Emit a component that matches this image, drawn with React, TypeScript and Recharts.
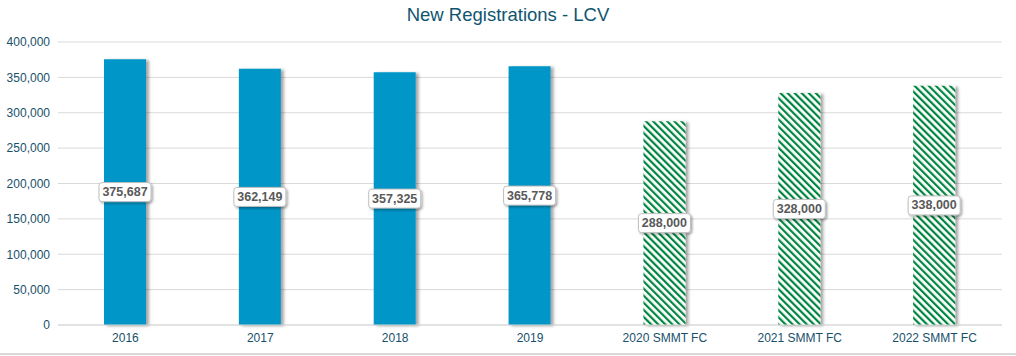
import { BarChart, Bar, XAxis, YAxis, CartesianGrid, Cell, LabelList } from "recharts";

const categories = ["2016", "2017", "2018", "2019", "2020 SMMT FC", "2021 SMMT FC", "2022 SMMT FC"];
const registrations = [375687, 362149, 357325, 365778, 288000, 328000, 338000];
const isForecast = [false, false, false, false, true, true, true];
const yTicks = [0, 50000, 100000, 150000, 200000, 250000, 300000, 350000, 400000];

const chartData = categories.map((name, i) => ({
  name,
  value: registrations[i],
  forecast: isForecast[i],
}));

const fmt = (v: number) => v.toLocaleString("en-US");

const axisColor = "#17506b";

const ValueLabel = (props: any) => {
  const { x, y, width, height, value } = props;
  const cx = x + width / 2;
  const cy = y + height / 2;
  const w = 52;
  const h = 19;
  return (
    <g>
      <rect
        x={cx - w / 2}
        y={cy - h / 2}
        width={w}
        height={h}
        rx={3}
        fill="#ffffff"
        stroke="#bfbfbf"
        strokeWidth={1}
        filter="url(#labelShadow)"
      />
      <text
        x={cx}
        y={cy}
        textAnchor="middle"
        dominantBaseline="central"
        fontSize={12.5}
        fontWeight="bold"
        fill="#595959"
      >
        {fmt(value)}
      </text>
    </g>
  );
};

export default function App() {
  return (
    <div
      style={{
        position: "absolute",
        left: 0,
        top: 0,
        width: 1016,
        height: 356,
        background: "#fff",
        fontFamily: "'Liberation Sans', Arial, sans-serif",
      }}
    >
      <div
        style={{
          position: "absolute",
          top: 4,
          left: 0,
          width: 1016,
          textAlign: "center",
          fontSize: 18.5,
          color: "#0f5570",
        }}
      >
        New Registrations - LCV
      </div>
      <div style={{ position: "absolute", left: 0, right: 0, top: 353, height: 2, background: "#d9d9d9" }} />
      <BarChart
        width={1016}
        height={356}
        data={chartData}
        margin={{ top: 42, right: 14, left: 0, bottom: 0 }}
      >
        <defs>
          <pattern
            id="hatch"
            patternUnits="userSpaceOnUse"
            width={5}
            height={5}
            patternTransform="rotate(-45)"
          >
            <rect width={5} height={5} fill="#ffffff" />
            <rect x={0} y={0} width={2.2} height={5} fill="#00853f" />
          </pattern>
          <filter id="barShadow" x="-20%" y="-5%" width="150%" height="110%">
            <feDropShadow dx={3} dy={1} stdDeviation={1.5} floodColor="#000" floodOpacity={0.35} />
          </filter>
          <filter id="labelShadow" x="-20%" y="-30%" width="150%" height="180%">
            <feDropShadow dx={1.5} dy={1.5} stdDeviation={1.2} floodColor="#000" floodOpacity={0.35} />
          </filter>
        </defs>
        <CartesianGrid vertical={false} stroke="#d9d9d9" />
        <XAxis
          dataKey="name"
          height={31}
          tickLine={false}
          axisLine={{ stroke: "#d9d9d9" }}
          tick={{ fontSize: 12, fill: axisColor }}
          interval={0}
        />
        <YAxis
          width={58}
          domain={[0, 400000]}
          ticks={yTicks}
          tickFormatter={fmt}
          tickLine={false}
          axisLine={false}
          tick={{ fontSize: 12, fill: axisColor }}
        />
        <Bar dataKey="value" barSize={42} isAnimationActive={false}>
          {chartData.map((d, i) => (
            <Cell
              key={i}
              fill={d.forecast ? "url(#hatch)" : "#0096c8"}
              filter="url(#barShadow)"
            />
          ))}
          <LabelList dataKey="value" content={ValueLabel} />
        </Bar>
      </BarChart>
    </div>
  );
}
